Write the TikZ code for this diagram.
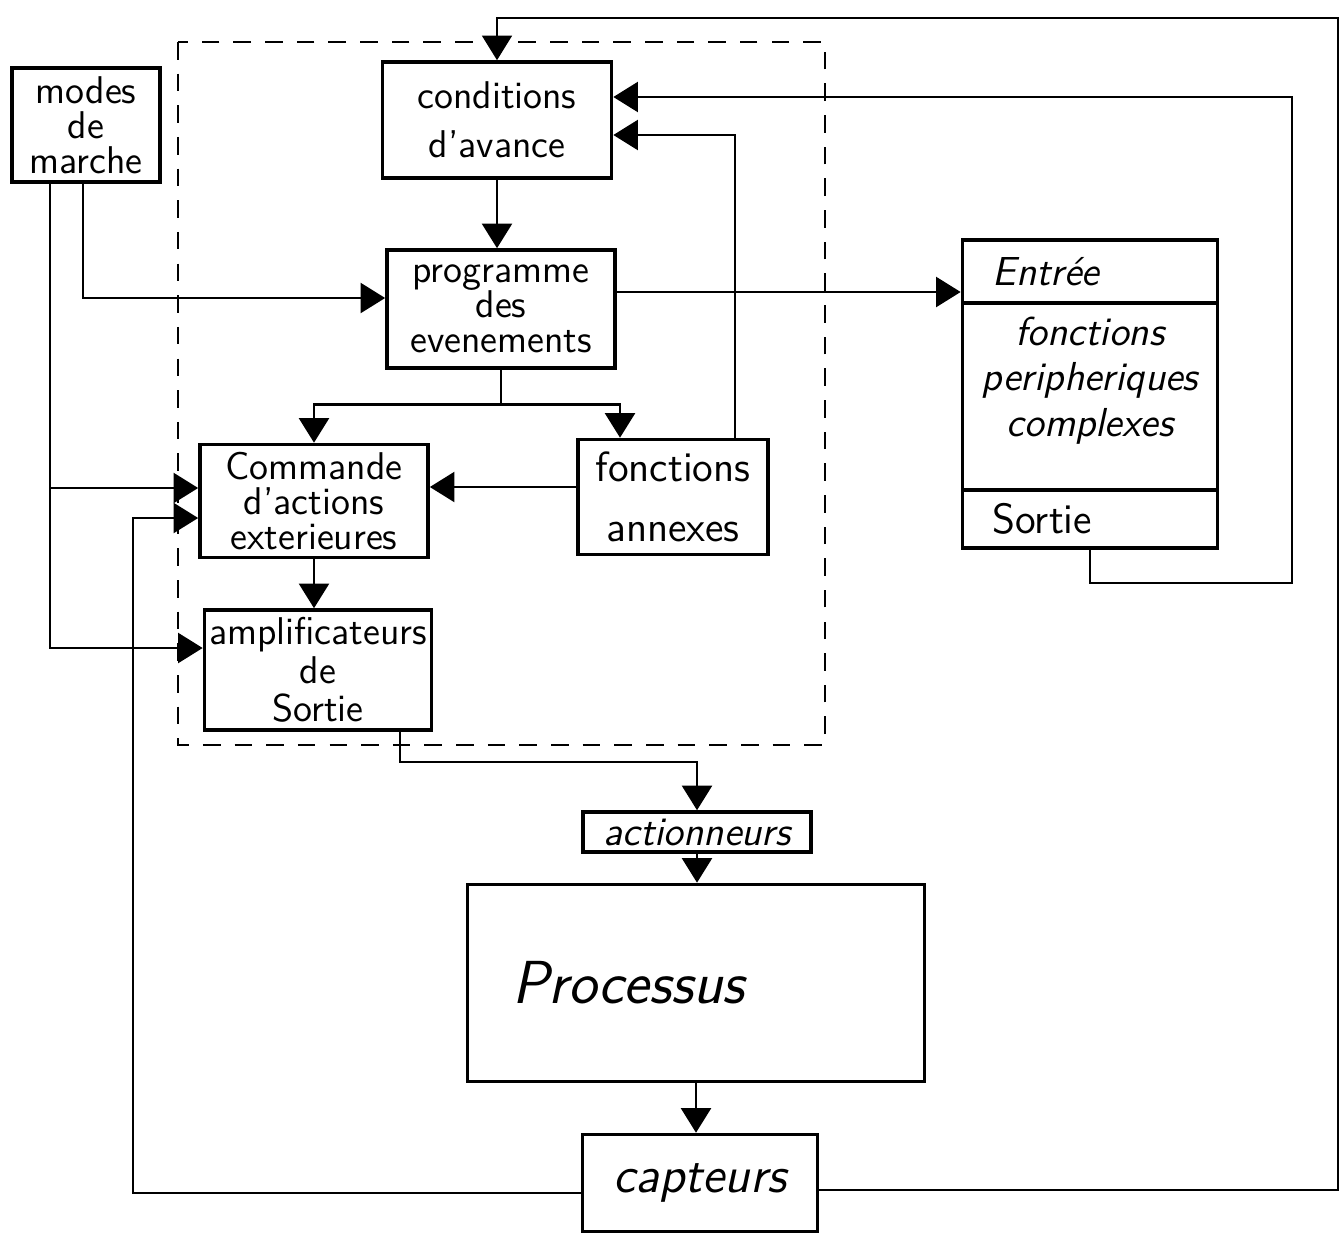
\documentclass[tikz,border=0pt]{standalone}
\usetikzlibrary{arrows.meta,positioning}
\tikzset{
  >={Triangle[length=7pt,width=8.5pt]},
  box/.style={draw=black,line width=1pt,align=center,inner sep=1pt,font=\sffamily\fontsize{11}{10}\selectfont},
  note/.style={box,font=\sffamily\itshape\fontsize{11.5}{14}\selectfont},
  flow/.style={->,line width=.8pt,draw=black},
  zone/.style={draw=black,line width=.7pt,dash pattern=on 5pt off 4pt}
}

\begin{document}
\begin{tikzpicture}[x=0.01cm,y=-0.01cm]
  \useasboundingbox (0,0) rectangle (1343,1245);
  \draw[zone] (178,42) rectangle (825,745);
  \node[box,minimum width=1.48cm,minimum height=1.14cm] (modes) at (86,125) {modes\\de\\marche};
  \node[box,minimum width=2.29cm,minimum height=1.16cm] (cond) at (497,120) {conditions\\[4pt]d'avance};
  \node[box,minimum width=2.28cm,minimum height=1.18cm] (prog) at (501,309) {programme\\des\\evenements};
  \node[box,minimum width=2.28cm,minimum height=1.13cm] (cmd) at (314,501) {Commande\\d'actions\\exterieures};
  \node[box,font=\sffamily\fontsize{12}{12}\selectfont,minimum width=1.90cm,minimum height=1.15cm] (annex) at (673,497) {fonctions\\[5pt]annexes};
  \node[box,minimum width=2.27cm,minimum height=1.20cm] (ampl) at (318,670) {amplificateurs\\[1pt]de\\[1pt]Sortie};
  \node[note,minimum width=2.55cm,minimum height=0.63cm,text width=1.95cm,align=left] (entree) at (1090,271.5) {Entrée};
  \node[note,minimum width=2.55cm,minimum height=1.87cm,
    label={[note,draw=none,yshift=0.16cm]center:{fonctions\\[-1pt]peripheriques\\[-1pt]complexes}}] (fonct) at (1090,396.5) {};
  \node[box,font=\sffamily\fontsize{12}{12}\selectfont,minimum width=2.55cm,minimum height=0.58cm,text width=1.95cm,align=left] (sortie) at (1090,519) {Sortie};
  \node[note,minimum width=2.28cm,minimum height=0.40cm] (act) at (697,832) {actionneurs};
  \node[note,font=\sffamily\itshape\LARGE,minimum width=4.57cm,minimum height=1.97cm,text width=3.67cm,align=left] (proc) at (696,983) {Processus};
  \node[note,font=\sffamily\itshape\Large,minimum width=2.35cm,minimum height=0.97cm] (capt) at (700,1183) {capteurs};
  \draw[flow,line width=.6pt] (capt.east |- 0,1190) -| (1338,18) -| (cond.north);
  \draw[flow] (sortie.south) |- (1292,583) -- (1292,97) -- (cond.east |- 0,97);
  \draw[flow] (annex.north -| 735,0) |- (cond.east |- 0,135);
  \draw[flow] (cond.south) -- (cond.south |- prog.north);
  \draw[flow] (modes.south -| 83,0) |- (prog.west |- 0,298);
  \draw[flow] (modes.south -| 50,0) |- (cmd.west |- 0,488);
  \draw[flow] (modes.south -| 50,0) |- (ampl.west |- 0,648);
  \draw[flow] (prog.east |- 0,292) -- (entree.west |- 0,292);
  \draw[flow] (prog.south) -- ++(0,35) -| (cmd.north);
  \draw[flow] (prog.south) -- ++(0,35) -| (annex.north -| 620,0);
  \draw[flow] (annex.west |- 0,487) -- (cmd.east |- 0,487);
  \draw[flow] (cmd.south) -- (cmd.south |- ampl.north);
  \draw[flow] (capt.west |- 0,1193) -| (133,518) -- (cmd.west |- 0,518);
  \draw[flow] (ampl.south -| 400,0) -- (400,762) -| (act.north);
  \draw[flow] (act.south) -- (act.south |- proc.north);
  \draw[flow] (proc.south) -- (proc.south |- capt.north);
\end{tikzpicture}
\end{document}
